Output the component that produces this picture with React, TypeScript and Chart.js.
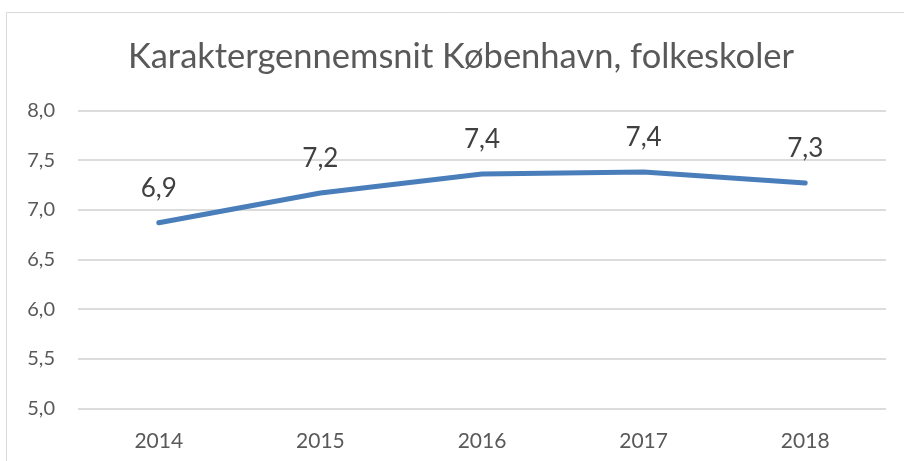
import React, { useEffect, useRef } from "react";
import { Chart, registerables } from "chart.js";

Chart.register(...registerables);

const TITLE = "Karaktergennemsnit København, folkeskoler";
const years = ["2014", "2015", "2016", "2017", "2018"];
const averages = [6.87, 7.17, 7.36, 7.38, 7.27];
const yMin = 5;
const yMax = 8;
const yStep = 0.5;

const FONT = "Lato";
const fmt = (v: number) => v.toFixed(1).replace(".", ",");

const borderPlugin = {
  id: "frameBorder",
  beforeDraw(chart: any) {
    const ctx = chart.ctx;
    ctx.save();
    ctx.strokeStyle = "#d9d9d9";
    ctx.lineWidth = 1;
    ctx.beginPath();
    ctx.moveTo(6.5, 461);
    ctx.lineTo(6.5, 12.5);
    ctx.lineTo(904, 12.5);
    ctx.stroke();
    ctx.restore();
  },
};

const titlePlugin = {
  id: "centeredTitle",
  afterDraw(chart: any) {
    const ctx = chart.ctx;
    ctx.save();
    ctx.font = `34.5px ${FONT}`;
    ctx.fillStyle = "#595959";
    ctx.textAlign = "center";
    ctx.textBaseline = "middle";
    ctx.fillText(TITLE, 461, 57);
    ctx.restore();
  },
};

const labelPlugin = {
  id: "valueLabels",
  afterDatasetsDraw(chart: any) {
    const ctx = chart.ctx;
    const meta = chart.getDatasetMeta(0);
    const data = chart.data.datasets[0].data as number[];
    ctx.save();
    ctx.font = `26px ${FONT}`;
    ctx.fillStyle = "#404040";
    ctx.textAlign = "center";
    ctx.textBaseline = "middle";
    meta.data.forEach((pt: any, i: number) => {
      ctx.fillText(fmt(data[i]), pt.x, pt.y - 34);
    });
    ctx.restore();
  },
};

export default function App() {
  const ref = useRef<HTMLCanvasElement>(null);
  useEffect(() => {
    if (!ref.current) return;
    const chart = new Chart(ref.current, {
      type: "line",
      data: {
        labels: years,
        datasets: [
          {
            data: averages,
            borderColor: "#4a7ebb",
            borderWidth: 5,
            borderCapStyle: "round",
            borderJoinStyle: "round",
            pointRadius: 0,
            pointHoverRadius: 0,
            tension: 0,
            fill: false,
          },
        ],
      },
      options: {
        animation: false,
        responsive: false,
        devicePixelRatio: 1,
        layout: { padding: { left: 0, right: 18, top: 110.5, bottom: 0 } },
        plugins: {
          legend: { display: false },
          tooltip: { enabled: false },
          title: { display: false },
        },
        scales: {
          x: {
            offset: true,
            grid: { display: false, drawTicks: false },
            border: { display: false },
            ticks: {
              color: "#595959",
              font: { family: FONT, size: 21 },
              padding: 20,
            },
            afterFit(scale: any) {
              scale.height = 52.5;
            },
          },
          y: {
            min: yMin,
            max: yMax,
            grid: { color: "#dcdcdc", lineWidth: 2, drawTicks: false },
            border: { display: false },
            ticks: {
              stepSize: yStep,
              color: "#595959",
              font: { family: FONT, size: 20 },
              padding: 23,
              callback: (v: any) => fmt(Number(v)),
            },
            afterFit(scale: any) {
              scale.width = 78;
            },
          },
        },
      },
      plugins: [borderPlugin, titlePlugin, labelPlugin],
    });
    return () => chart.destroy();
  }, []);
  return (
    <div style={{ position: "fixed", left: 0, top: 0, width: 904, height: 461, background: "#fff" }}>
      <canvas ref={ref} width={904} height={461} style={{ display: "block" }} />
    </div>
  );
}
